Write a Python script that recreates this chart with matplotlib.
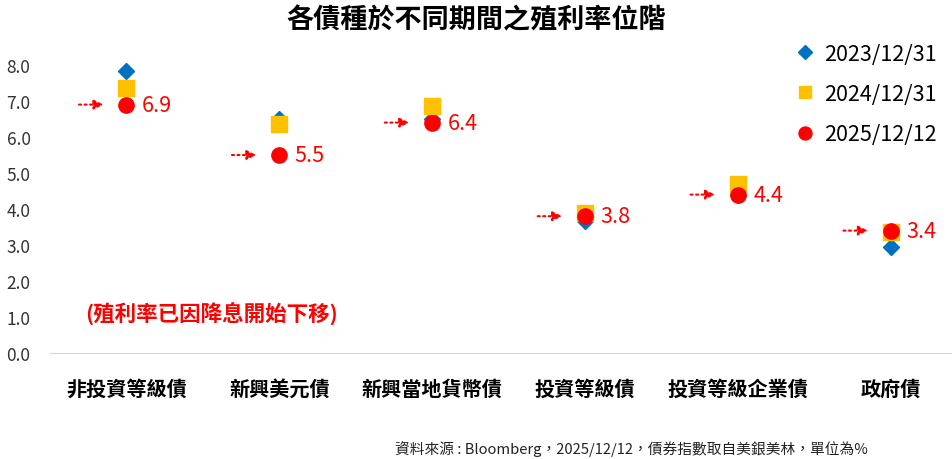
import matplotlib.pyplot as plt

plt.rcParams['font.family'] = ['Noto Sans CJK TC', 'DejaVu Sans']

categories = ['非投資等級債', '新興美元債', '新興當地貨幣債', '投資等級債', '投資等級企業債', '政府債']
y2023 = [7.83, 6.50, 6.50, 3.67, 4.40, 2.94]
y2024 = [7.36, 6.36, 6.86, 3.89, 4.69, 3.36]
y2025 = [6.9, 5.5, 6.4, 3.8, 4.4, 3.4]
labels2025 = ['6.9', '5.5', '6.4', '3.8', '4.4', '3.4']
yticks = [0, 1, 2, 3, 4, 5, 6, 7, 8]

fig = plt.figure(figsize=(9.52, 4.6), dpi=100)
ax = fig.add_axes([50 / 952, 106 / 460, 902 / 952, 306 / 460])

x = list(range(len(categories)))
ax.plot(x, y2023, linestyle='none', marker='D', markersize=8, color='#0070C0', label='2023/12/31', zorder=3)
ax.plot(x, y2024, linestyle='none', marker='s', markersize=11, color='#FFC000', label='2024/12/31', zorder=4)
ax.plot(x, y2025, linestyle='none', marker='o', markersize=11, color='#FF0000', label='2025/12/12', zorder=5)

# red dotted arrows + value labels
for xi, yi, lab in zip(x, y2025, labels2025):
    ax.annotate('', xy=(xi - 0.15, yi), xytext=(xi - 0.31, yi),
                arrowprops=dict(arrowstyle='-|>', color='#FF0000', linestyle=':', lw=1.5,
                                mutation_scale=14, shrinkA=0, shrinkB=0))
    ax.text(xi + 0.1, yi, lab, color='#FF0000', fontsize=15.5, va='center', ha='left')

ax.text(-0.27, 1.1, '(殖利率已因降息開始下移)', color='#FF0000', fontsize=15.5, fontweight='bold',
        va='center', ha='left')

ax.set_xlim(-0.5, 5.4)
ax.set_ylim(0, 8.5)
ax.set_yticks(yticks)
ax.set_yticklabels([f'{v:.1f}' for v in yticks], fontsize=12.5, color='#333333')
ax.set_xticks(x)
ax.set_xticklabels(categories, fontsize=14.5, fontweight='bold')
ax.tick_params(axis='both', length=0)
ax.tick_params(axis='x', pad=18)
ax.tick_params(axis='y', pad=14)
for s in ['top', 'right', 'left']:
    ax.spines[s].set_visible(False)
ax.spines['bottom'].set_color('#D9D9D9')

ax.legend(loc='upper right', bbox_to_anchor=(1.005, 1.078), frameon=False, fontsize=15.5,
          handletextpad=0.3, labelspacing=0.85, handlelength=1.2, markerscale=0.85)

fig.text(0.5, 1 - 20 / 460, '各債種於不同期間之殖利率位階', ha='center', va='center',
         fontsize=19.5, fontweight='bold')
fig.text(395 / 952, 1 - 449 / 460, '資料來源 : Bloomberg，2025/12/12，債券指數取自美銀美林，單位為%',
         ha='left', va='center', fontsize=10.6, color='#222222')

fig.savefig('out.png', dpi=100)
